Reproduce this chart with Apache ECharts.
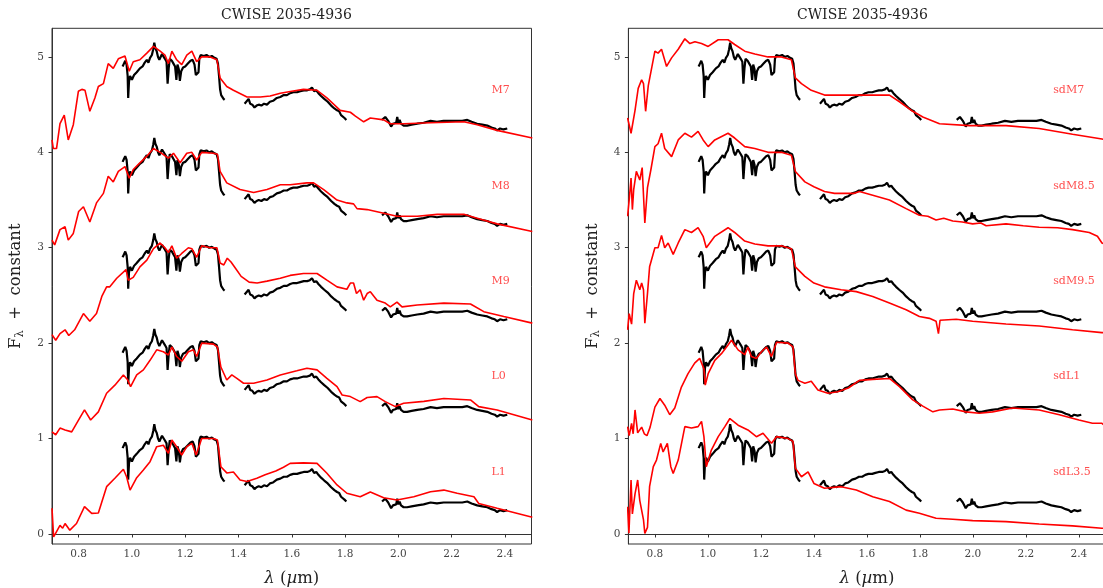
<!DOCTYPE html>
<html>
<head>
<meta charset="utf-8">
<script src="https://cdn.jsdelivr.net/npm/echarts@6/dist/echarts.min.js"></script>
<style>html,body{margin:0;padding:0;background:#fff}#c{width:1103px;height:588px}</style>
</head>
<body>
<div id="c"></div>
<script>
// ---- data (wavelength in micron, normalized flux) ----
const titleText = 'CWISE 2035-4936';
const xTicks = [0.8, 1.0, 1.2, 1.4, 1.6, 1.8, 2.0, 2.2, 2.4];
const yTicks = [0, 1, 2, 3, 4, 5];
const offsets = [4, 3, 2, 1, 0];
const leftNames = ['M7', 'M8', 'M9', 'L0', 'L1'];
const rightNames = ['sdM7', 'sdM8.5', 'sdM9.5', 'sdL1', 'sdL3.5'];

// observed spectrum, three bands
const obsJ = [[0.965,0.90],[0.970,0.93],[0.975,0.96],[0.980,0.92],[0.984,0.80],[0.986,0.57],[0.989,0.74],[0.993,0.80],[1.000,0.76],[1.008,0.81],[1.018,0.84],[1.030,0.88],[1.040,0.90],[1.048,0.94],[1.056,0.97],[1.062,0.94],[1.068,0.99],[1.075,1.02],[1.080,1.08],[1.084,1.15],[1.088,1.09],[1.093,1.06],[1.098,1.00],[1.103,0.97],[1.108,0.99],[1.113,1.03],[1.118,1.01],[1.124,0.98],[1.130,0.95],[1.134,0.72],[1.138,0.88],[1.142,0.98],[1.150,0.96],[1.156,0.93],[1.162,0.90],[1.167,0.76],[1.171,0.92],[1.176,0.87],[1.180,0.75],[1.185,0.85],[1.192,0.89],[1.200,0.90],[1.210,0.93],[1.220,0.96],[1.228,0.97],[1.235,0.92],[1.240,0.81],[1.245,0.80],[1.250,0.84],[1.253,0.98],[1.258,1.02],[1.263,1.04],[1.270,1.01],[1.280,1.02],[1.290,1.00],[1.300,1.01],[1.310,0.99],[1.318,0.98],[1.323,0.93],[1.327,0.80],[1.331,0.66],[1.335,0.60],[1.340,0.58],[1.344,0.56],[1.348,0.55]];
const obsH = [[1.423,0.51],[1.430,0.53],[1.438,0.56],[1.444,0.51],[1.452,0.50],[1.460,0.47],[1.468,0.49],[1.476,0.50],[1.486,0.49],[1.496,0.51],[1.507,0.50],[1.518,0.53],[1.530,0.54],[1.544,0.57],[1.557,0.58],[1.570,0.60],[1.582,0.60],[1.594,0.62],[1.606,0.63],[1.620,0.63],[1.632,0.64],[1.645,0.65],[1.658,0.65],[1.668,0.66],[1.676,0.68],[1.684,0.64],[1.692,0.65],[1.700,0.62],[1.710,0.59],[1.722,0.56],[1.735,0.53],[1.748,0.49],[1.760,0.46],[1.770,0.44],[1.778,0.43],[1.785,0.39],[1.792,0.40],[1.798,0.36],[1.805,0.34]];
const obsK = [[1.939,0.34],[1.945,0.36],[1.951,0.37],[1.957,0.35],[1.962,0.33],[1.968,0.31],[1.973,0.27],[1.980,0.30],[1.986,0.29],[1.992,0.31],[1.996,0.37],[2.000,0.31],[2.005,0.34],[2.010,0.30],[2.020,0.28],[2.033,0.28],[2.050,0.29],[2.071,0.30],[2.095,0.31],[2.121,0.33],[2.145,0.32],[2.170,0.33],[2.196,0.33],[2.220,0.33],[2.240,0.33],[2.259,0.34],[2.275,0.32],[2.296,0.30],[2.315,0.29],[2.334,0.28],[2.350,0.26],[2.362,0.25],[2.371,0.23],[2.382,0.25],[2.395,0.24],[2.409,0.25]];

// standard templates (left panel)
const tplM7 = [[0.700,0.13],[0.705,0.04],[0.717,0.04],[0.730,0.30],[0.746,0.39],[0.761,0.13],[0.780,0.29],[0.799,0.64],[0.812,0.66],[0.824,0.65],[0.842,0.43],[0.861,0.57],[0.874,0.69],[0.893,0.72],[0.911,0.93],[0.930,0.88],[0.949,0.98],[0.974,1.01],[0.990,0.85],[1.005,0.95],[1.030,0.97],[1.056,1.04],[1.081,1.11],[1.106,1.06],[1.124,1.02],[1.137,0.93],[1.150,1.06],[1.168,0.97],[1.187,0.92],[1.206,1.02],[1.225,1.06],[1.243,0.95],[1.262,1.00],[1.294,1.00],[1.319,0.97],[1.331,0.78],[1.356,0.69],[1.381,0.65],[1.432,0.58],[1.482,0.58],[1.519,0.59],[1.557,0.62],[1.600,0.64],[1.644,0.66],[1.695,0.65],[1.732,0.57],[1.782,0.44],[1.820,0.42],[1.839,0.38],[1.870,0.32],[1.895,0.36],[1.945,0.34],[1.970,0.30],[2.020,0.30],[2.121,0.31],[2.246,0.32],[2.296,0.29],[2.371,0.23],[2.503,0.15]];
const tplM8 = [[0.700,0.08],[0.710,0.03],[0.730,0.19],[0.749,0.22],[0.761,0.08],[0.780,0.15],[0.800,0.38],[0.818,0.43],[0.842,0.27],[0.867,0.47],[0.893,0.57],[0.911,0.75],[0.930,0.69],[0.949,0.80],[0.974,0.85],[0.990,0.73],[1.005,0.82],[1.030,0.89],[1.056,0.96],[1.081,1.04],[1.106,1.00],[1.137,0.94],[1.156,0.99],[1.181,0.89],[1.206,0.99],[1.225,1.00],[1.243,0.92],[1.262,1.00],[1.306,0.99],[1.321,0.98],[1.331,0.80],[1.356,0.68],[1.406,0.61],[1.457,0.58],[1.507,0.61],[1.557,0.66],[1.594,0.66],[1.657,0.68],[1.682,0.68],[1.720,0.61],[1.770,0.50],[1.807,0.47],[1.832,0.46],[1.845,0.41],[1.883,0.40],[1.933,0.37],[1.995,0.33],[2.071,0.33],[2.146,0.35],[2.246,0.35],[2.296,0.31],[2.371,0.25],[2.503,0.17]];
const tplM9 = [[0.700,0.09],[0.714,0.03],[0.730,0.10],[0.749,0.14],[0.763,0.08],[0.785,0.14],[0.818,0.31],[0.842,0.23],[0.867,0.31],[0.887,0.49],[0.905,0.59],[0.917,0.59],[0.943,0.68],[0.978,0.77],[0.986,0.66],[1.005,0.69],[1.030,0.80],[1.056,0.87],[1.081,0.99],[1.106,1.05],[1.124,1.00],[1.137,0.95],[1.150,1.02],[1.168,0.89],[1.187,0.94],[1.212,1.00],[1.225,0.99],[1.243,0.90],[1.262,1.02],[1.294,1.00],[1.319,1.00],[1.331,0.84],[1.345,0.82],[1.358,0.89],[1.372,0.85],[1.390,0.78],[1.410,0.70],[1.440,0.64],[1.470,0.63],[1.507,0.65],[1.557,0.68],[1.594,0.71],[1.644,0.73],[1.695,0.73],[1.732,0.66],[1.770,0.59],[1.807,0.565],[1.820,0.63],[1.832,0.63],[1.843,0.52],[1.857,0.56],[1.870,0.45],[1.883,0.52],[1.895,0.54],[1.920,0.45],[1.951,0.42],[1.970,0.38],[1.995,0.43],[2.014,0.38],[2.071,0.40],[2.171,0.42],[2.271,0.41],[2.321,0.33],[2.396,0.28],[2.503,0.21]];
const tplL0 = [[0.700,0.07],[0.714,0.04],[0.730,0.11],[0.749,0.09],[0.774,0.07],[0.800,0.195],[0.822,0.30],[0.845,0.195],[0.874,0.28],[0.905,0.475],[0.936,0.56],[0.968,0.667],[0.983,0.62],[0.995,0.544],[1.018,0.667],[1.043,0.72],[1.068,0.82],[1.093,0.93],[1.118,0.91],[1.137,0.876],[1.150,0.96],[1.168,0.86],[1.187,0.81],[1.212,0.91],[1.231,0.93],[1.243,0.86],[1.262,1.00],[1.306,0.99],[1.321,0.96],[1.334,0.75],[1.356,0.614],[1.375,0.667],[1.394,0.63],[1.419,0.58],[1.457,0.58],[1.507,0.614],[1.557,0.667],[1.619,0.71],[1.657,0.737],[1.695,0.72],[1.732,0.632],[1.770,0.544],[1.789,0.457],[1.820,0.44],[1.857,0.387],[1.883,0.43],[1.920,0.44],[1.951,0.387],[1.989,0.335],[2.020,0.37],[2.096,0.39],[2.171,0.42],[2.271,0.405],[2.302,0.335],[2.371,0.30],[2.503,0.195]];
const tplL1 = [[0.700,0.27],[0.706,-0.03],[0.714,0.01],[0.730,0.09],[0.740,0.06],[0.749,0.11],[0.767,0.04],[0.792,0.11],[0.822,0.286],[0.849,0.216],[0.874,0.22],[0.905,0.496],[0.936,0.584],[0.968,0.678],[0.980,0.60],[0.993,0.46],[1.018,0.59],[1.043,0.67],[1.068,0.758],[1.093,0.915],[1.118,0.93],[1.137,0.845],[1.150,0.985],[1.168,0.915],[1.187,0.828],[1.206,0.915],[1.225,0.95],[1.241,0.828],[1.262,1.00],[1.306,1.00],[1.321,0.985],[1.334,0.705],[1.356,0.64],[1.381,0.65],[1.406,0.566],[1.432,0.55],[1.469,0.584],[1.500,0.62],[1.540,0.66],[1.569,0.70],[1.594,0.74],[1.644,0.745],[1.695,0.74],[1.732,0.636],[1.770,0.514],[1.807,0.427],[1.857,0.39],[1.895,0.44],[1.945,0.38],[1.995,0.356],[2.058,0.39],[2.121,0.443],[2.171,0.46],[2.221,0.427],[2.284,0.39],[2.302,0.32],[2.371,0.27],[2.503,0.175]];

// subdwarf templates (right panel)
const tplSdM7 = [[0.697,0.36],[0.710,0.20],[0.725,0.44],[0.737,0.67],[0.750,0.76],[0.757,0.72],[0.765,0.43],[0.775,0.70],[0.800,1.06],[0.812,1.04],[0.825,1.08],[0.844,0.90],[0.863,0.99],[0.888,1.08],[0.913,1.19],[0.932,1.14],[0.951,1.16],[0.976,1.14],[1.001,1.11],[1.039,1.18],[1.076,1.18],[1.101,1.13],[1.139,1.06],[1.177,1.03],[1.227,1.00],[1.277,1.00],[1.315,0.97],[1.330,0.78],[1.353,0.72],[1.390,0.65],[1.440,0.60],[1.497,0.60],[1.553,0.60],[1.685,0.60],[1.723,0.53],[1.773,0.43],[1.811,0.37],[1.874,0.30],[1.987,0.28],[2.125,0.28],[2.250,0.25],[2.376,0.19],[2.487,0.14],[2.503,0.13]];
const tplSdM85 = [[0.697,0.33],[0.703,0.50],[0.710,0.73],[0.715,0.40],[0.720,0.61],[0.730,0.80],[0.743,0.71],[0.752,0.84],[0.762,0.26],[0.772,0.63],[0.785,0.82],[0.800,1.06],[0.812,1.09],[0.825,1.20],[0.837,1.04],[0.863,0.955],[0.888,1.13],[0.913,1.20],[0.938,1.16],[0.963,1.22],[0.982,1.13],[1.001,1.06],[1.026,1.13],[1.076,1.20],[1.101,1.15],[1.139,1.06],[1.177,1.04],[1.227,1.00],[1.277,1.00],[1.315,0.97],[1.330,0.80],[1.366,0.69],[1.400,0.64],[1.440,0.59],[1.478,0.57],[1.553,0.57],[1.572,0.59],[1.622,0.55],[1.685,0.50],[1.748,0.41],[1.798,0.34],[1.830,0.33],[1.861,0.29],[1.890,0.31],[1.924,0.28],[1.960,0.27],[1.999,0.25],[2.030,0.26],[2.050,0.23],[2.125,0.25],[2.190,0.23],[2.250,0.215],[2.320,0.21],[2.376,0.19],[2.439,0.16],[2.470,0.12],[2.487,0.05],[2.503,0.03]];
const tplSdM95 = [[0.697,0.14],[0.703,0.31],[0.712,0.20],[0.720,0.52],[0.725,0.59],[0.730,0.66],[0.735,0.66],[0.743,0.56],[0.750,0.63],[0.757,0.56],[0.762,0.21],[0.772,0.52],[0.780,0.80],[0.800,1.00],[0.812,1.00],[0.825,1.13],[0.837,1.00],[0.850,1.05],[0.869,0.93],[0.888,1.05],[0.913,1.19],[0.938,1.16],[0.963,1.21],[0.982,1.12],[0.994,1.00],[1.026,1.12],[1.076,1.21],[1.101,1.16],[1.139,1.07],[1.177,1.04],[1.227,1.02],[1.277,1.02],[1.315,0.99],[1.330,0.80],[1.366,0.70],[1.400,0.63],[1.440,0.59],[1.503,0.56],[1.560,0.54],[1.622,0.49],[1.685,0.42],[1.748,0.35],[1.798,0.28],[1.836,0.26],[1.861,0.23],[1.870,0.10],[1.876,0.24],[1.937,0.25],[1.999,0.23],[2.125,0.20],[2.250,0.18],[2.376,0.14],[2.487,0.11],[2.503,0.11]];
const tplSdL1 = [[0.697,0.125],[0.703,0.03],[0.712,0.16],[0.718,0.05],[0.725,0.30],[0.735,0.06],[0.750,0.12],[0.760,0.05],[0.770,0.03],[0.782,0.12],[0.800,0.33],[0.819,0.42],[0.837,0.35],[0.856,0.25],[0.875,0.32],[0.900,0.54],[0.925,0.68],[0.950,0.79],[0.969,0.84],[0.985,0.73],[0.990,0.56],[1.001,0.68],[1.026,0.82],[1.051,0.89],[1.076,0.98],[1.089,1.03],[1.114,0.93],[1.139,0.88],[1.151,0.96],[1.164,0.86],[1.183,0.84],[1.202,0.91],[1.221,0.96],[1.240,0.86],[1.259,1.01],[1.303,1.00],[1.321,0.96],[1.330,0.68],[1.340,0.61],[1.366,0.58],[1.390,0.60],[1.415,0.51],[1.453,0.475],[1.490,0.49],[1.530,0.53],[1.572,0.61],[1.622,0.62],[1.685,0.63],[1.723,0.544],[1.773,0.405],[1.811,0.34],[1.849,0.28],[1.874,0.30],[1.924,0.31],[1.974,0.28],[2.024,0.265],[2.074,0.28],[2.150,0.32],[2.250,0.30],[2.326,0.25],[2.400,0.195],[2.451,0.16],[2.487,0.16],[2.503,0.12]];
const tplSdL35 = [[0.697,0.286],[0.702,0.007],[0.710,0.566],[0.715,0.21],[0.725,0.42],[0.735,0.566],[0.743,0.35],[0.757,0.147],[0.762,0.007],[0.772,0.07],[0.780,0.50],[0.794,0.705],[0.806,0.775],[0.822,0.95],[0.831,0.86],[0.847,0.95],[0.860,0.705],[0.869,0.635],[0.888,0.775],[0.913,1.125],[0.938,1.11],[0.963,1.125],[0.976,1.18],[0.985,1.02],[0.994,0.705],[1.013,0.88],[1.039,1.02],[1.064,1.125],[1.083,1.21],[1.114,1.14],[1.151,1.09],[1.183,1.02],[1.208,1.055],[1.240,0.95],[1.259,1.02],[1.303,1.00],[1.321,0.97],[1.330,0.69],[1.353,0.60],[1.378,0.65],[1.400,0.53],[1.440,0.48],[1.503,0.496],[1.560,0.46],[1.622,0.39],[1.685,0.34],[1.748,0.25],[1.798,0.217],[1.861,0.165],[1.924,0.155],[1.999,0.14],[2.125,0.13],[2.250,0.105],[2.376,0.085],[2.487,0.06],[2.503,0.06]];

const leftTpls = [tplM7, tplM8, tplM9, tplL0, tplL1];
const rightTpls = [tplSdM7, tplSdM85, tplSdM95, tplSdL1, tplSdL35];
const labelXLeft = 2.35, labelXRight = 2.303, labelDy = 0.65;

// ---- chart ----
const FONT = 'DejaVu Serif';
const AX = '#333';
function shift(arr, off) { return arr.map(p => [p[0], p[1] + off]); }
function obsData(off) {
  const out = [];
  [obsJ, obsH, obsK].forEach((s, i) => {
    if (i) out.push([s[0][0] - 0.01, '-']);
    s.forEach(p => out.push([p[0], p[1] + off]));
  });
  return out;
}
function xAxisOpt(gi) {
  return {
    type: 'value', gridIndex: gi, min: 0.7, max: 2.5,
    splitLine: { show: false },
    axisLine: { show: true, lineStyle: { color: AX, width: 1 } },
    axisTick: { show: true, length: 3.5, lineStyle: { color: AX }, customValues: xTicks },
    axisLabel: { color: '#444', fontFamily: FONT, fontSize: 10.5, margin: 5, customValues: xTicks,
                 formatter: v => v.toFixed(1) },
    name: '{i|λ} ({i|µ}m)', nameLocation: 'middle', nameGap: 26,
    nameTextStyle: { fontFamily: FONT, fontSize: 16.5, color: '#222',
      rich: { i: { fontFamily: FONT, fontStyle: 'italic', fontSize: 16.5, color: '#222' } } }
  };
}
function yAxisOpt(gi) {
  return {
    type: 'value', gridIndex: gi, min: -0.105, max: 5.3,
    splitLine: { show: false },
    axisLine: { show: true, lineStyle: { color: AX, width: 1 } },
    axisTick: { show: true, length: 3.5, lineStyle: { color: AX }, customValues: yTicks },
    axisLabel: { color: '#444', fontFamily: FONT, fontSize: 10.5, margin: 8, customValues: yTicks,
                 formatter: v => String(Math.round(v)) },
    name: '{a|F}{s|λ}{a|  +  constant}', nameLocation: 'middle', nameRotate: 90, nameGap: 26,
    nameTextStyle: { fontFamily: FONT, fontSize: 16.5, color: '#222',
      rich: { a: { fontFamily: FONT, fontSize: 16.5, color: '#222', lineHeight: 20 },
              s: { fontFamily: FONT, fontSize: 11.5, color: '#222', verticalAlign: 'bottom', lineHeight: 14 } } }
  };
}
const series = [];
[0, 1].forEach(gi => {
  const tpls = gi === 0 ? leftTpls : rightTpls;
  const names = gi === 0 ? leftNames : rightNames;
  const lx = gi === 0 ? labelXLeft : labelXRight;
  offsets.forEach((off, k) => {
    series.push({ type: 'line', xAxisIndex: gi, yAxisIndex: gi, data: obsData(off),
      symbol: 'none', connectNulls: false, z: 2, silent: true,
      lineStyle: { color: '#000', width: 2.2 } });
    series.push({ type: 'line', xAxisIndex: gi, yAxisIndex: gi, data: shift(tpls[k], off),
      symbol: 'none', z: 3, silent: true,
      lineStyle: { color: '#ff0000', width: 1.6 } });
    series.push({ type: 'scatter', xAxisIndex: gi, yAxisIndex: gi, data: [[lx, off + labelDy]],
      symbolSize: 0, z: 4, silent: true,
      label: { show: true, position: 'right', distance: 0, formatter: names[k],
               color: '#ff2020', fontFamily: FONT, fontSize: 11 } });
  });
});

const chart = echarts.init(document.getElementById('c'), null, { renderer: 'canvas' });
chart.setOption({
  animation: false,
  backgroundColor: '#fff',
  grid: [
    { left: 52, top: 28.3, width: 479.5, height: 515.7, show: true, borderColor: AX, borderWidth: 1,
      backgroundColor: 'transparent', containLabel: false, outerBoundsMode: 'none' },
    { left: 628.4, top: 28.3, width: 477, height: 515.7, show: true, borderColor: AX, borderWidth: 1,
      backgroundColor: 'transparent', containLabel: false, outerBoundsMode: 'none' }
  ],
  xAxis: [xAxisOpt(0), xAxisOpt(1)],
  yAxis: [yAxisOpt(0), yAxisOpt(1)],
  graphic: [
    { type: 'text', left: 291 - 70, top: 8, style: { text: titleText, font: '14px "DejaVu Serif"', fill: '#222' } },
    { type: 'text', left: 867 - 70, top: 8, style: { text: titleText, font: '14px "DejaVu Serif"', fill: '#222' } }
  ],
  series: series
});
</script>
</body>
</html>
